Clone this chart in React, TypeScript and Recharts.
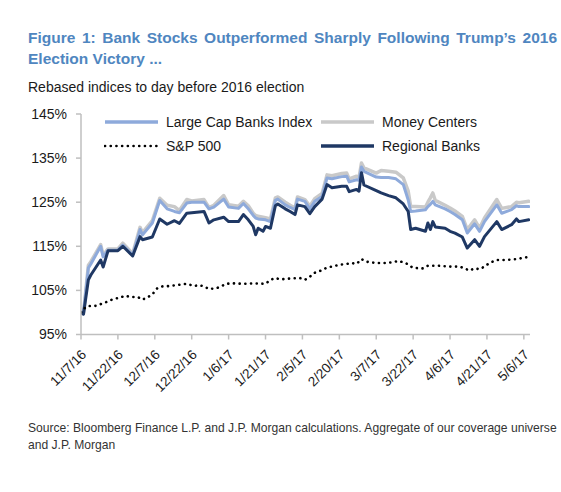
import React from "react";
import { LineChart, Line, XAxis, YAxis } from "recharts";

// day offsets from 11/7/16 (day before the election = 100%)
const bankDays = [
  0, 1, 3, 4, 8, 9, 11, 15, 17, 21, 24, 25, 29, 32, 35, 38, 40, 43, 45, 50,
  52, 54, 58, 60, 64, 66, 68, 70, 71, 72, 74, 75, 77, 79, 80, 83, 85, 87, 88, 91,
  93, 95, 98, 100, 102, 106, 108, 109, 112, 113, 114, 115, 120, 122, 125, 128, 131, 133, 134, 136,
  140, 141, 142, 143, 144, 148, 150, 152, 155, 157, 160, 162, 164, 169, 171, 175, 177, 178, 182,
];

const regionalBanks = [
  100, 99.6, 107.4, 108.5, 111.9, 110.3, 114.0, 114.0, 115.0, 112.8,
  117.2, 116.5, 117.1, 121.2, 120.0, 120.8, 120.2, 122.5, 122.6, 122.9,
  120.3, 121.0, 121.6, 120.6, 120.6, 122.2, 121.0, 119.5, 117.6, 119.1,
  118.4, 119.5, 119.1, 124.2, 124.6, 123.5, 122.9, 122.2, 124.4, 124.0,
  122.4, 124.0, 125.7, 129.0, 128.3, 128.6, 128.6, 127.4, 127.9, 127.5,
  131.7, 128.9, 127.6, 127.1, 126.5, 126.0, 124.6, 122.9, 118.8, 119.1,
  118.4, 120.3, 118.8, 120.6, 119.4, 119.1, 118.4, 118.0, 117.1, 114.6,
  116.5, 115.0, 117.2, 120.6, 118.8, 119.9, 121.2, 120.6, 121.0,
];

const largeCapBanks = [
  100, 99.7, 110.1, 111.0, 115.0, 112.6, 114.1, 114.1, 115.3, 113.0,
  118.8, 117.6, 120.3, 125.4, 123.5, 122.9, 122.6, 124.8, 125.0, 125.0,
  123.5, 123.9, 125.7, 123.9, 123.6, 124.7, 123.5, 122.0, 121.4, 121.2,
  121.1, 121.0, 120.6, 125.4, 125.7, 124.4, 123.8, 123.3, 125.7, 125.2,
  123.5, 125.2, 126.3, 130.5, 130.3, 130.8, 130.9, 129.6, 130.1, 130.0,
  133.0, 132.0, 130.7, 130.6, 130.6, 130.3, 129.0, 125.5, 122.9, 123.0,
  123.3, 124.0, 124.5, 125.2, 124.4, 123.5, 122.9, 122.2, 121.0, 118.0,
  120.1, 118.4, 120.6, 124.4, 122.5, 123.3, 124.2, 124.0, 124.0,
];

const moneyCenters = [
  100, 99.8, 110.7, 111.5, 115.4, 113.0, 114.4, 114.4, 115.7, 113.3,
  119.3, 118.1, 120.8, 125.9, 124.3, 124.0, 123.1, 125.6, 125.3, 125.6,
  123.8, 124.3, 126.5, 124.4, 124.1, 125.2, 124.2, 122.5, 122.0, 121.8,
  121.6, 121.5, 121.2, 126.0, 126.2, 125.0, 124.3, 123.7, 126.2, 125.6,
  124.1, 125.8, 127.0, 131.2, 131.0, 131.5, 131.6, 130.3, 130.9, 130.6,
  133.9, 132.8, 131.6, 132.2, 132.0, 131.8, 130.5, 127.5, 124.0, 124.0,
  123.9, 125.0, 126.0, 127.1, 125.4, 124.3, 123.7, 123.0, 121.8, 118.8,
  121.0, 119.1, 121.4, 125.6, 123.6, 124.0, 125.0, 124.9, 125.2,
];

const spxDays = [
  0, 2, 4, 6, 9, 11, 13, 16, 18, 20, 23, 25, 27, 29, 31, 33, 36, 39, 43, 46,
  48, 50, 52, 55, 57, 59, 62, 66, 70, 75, 77, 79, 81, 85, 89, 91, 93, 95, 98, 100,
  102, 105, 108, 110, 112, 114, 116, 120, 124, 127, 129, 132, 135, 139, 141, 145, 150, 154, 158, 160,
  162, 164, 166, 169, 173, 177, 181,
];

const spx500 = [
  100.0, 101.3, 101.5, 101.5, 102.1, 102.5, 103.0, 103.4, 103.8, 103.5,
  103.5, 102.9, 103.4, 104.1, 105.5, 105.9, 106.0, 106.2, 106.5, 106.0,
  106.2, 105.9, 105.3, 105.5, 105.9, 106.5, 106.6, 106.5, 106.6, 106.5,
  107.4, 107.8, 107.5, 107.7, 107.8, 107.4, 108.1, 109.0, 109.6, 110.2,
  110.4, 110.8, 111.0, 111.2, 111.0, 112.1, 111.5, 111.2, 111.2, 111.4,
  111.7, 111.2, 110.1, 110.0, 110.6, 110.6, 110.4, 110.4, 109.5, 110.0,
  109.8, 110.4, 111.2, 111.9, 111.9, 112.1, 112.5,
];

const dateTicks = [0, 15, 30, 45, 60, 75, 90, 105, 120, 135, 150, 165, 180];
const dateLabels = [
  "11/7/16", "11/22/16", "12/7/16", "12/22/16", "1/6/17", "1/21/17", "2/5/17",
  "2/20/17", "3/7/17", "3/22/17", "4/6/17", "4/21/17", "5/6/17",
];
const pctTicks = [95, 105, 115, 125, 135, 145];

const FONT = '"Liberation Sans", Arial, sans-serif';
const AXIS_GRAY = "#bfbfbf";

const toRows = (days: number[], values: number[]) =>
  days.map((day, i) => ({ day, value: values[i] }));

const series = [
  { name: "Money Centers", color: "#c9c9c9", width: 3.5, dash: undefined, data: toRows(bankDays, moneyCenters) },
  { name: "Large Cap Banks Index", color: "#8eaadb", width: 3, dash: undefined, data: toRows(bankDays, largeCapBanks) },
  { name: "Regional Banks", color: "#1f3864", width: 3, dash: undefined, data: toRows(bankDays, regionalBanks) },
  { name: "S&P 500", color: "#000000", width: 2.6, dash: "0.1 5.6", data: toRows(spxDays, spx500) },
];

const legendOrder = ["Large Cap Banks Index", "Money Centers", "S&P 500", "Regional Banks"];

function DateTick({ x, y, payload }: any) {
  const idx = dateTicks.indexOf(payload.value);
  return (
    <g transform={`translate(${x + 6},${y + 14})`}>
      <text
        textAnchor="end"
        transform="rotate(-45)"
        fontSize={13.5}
        fontFamily={FONT}
        fill="#1a1a1a"
      >
        {dateLabels[idx]}
      </text>
    </g>
  );
}

function LegendBox() {
  return (
    <div
      style={{
        position: "absolute",
        left: 104,
        top: 114,
        display: "grid",
        gridTemplateColumns: "216px 200px",
        rowGap: 8,
        fontFamily: FONT,
        fontSize: 14,
        color: "#1a1a1a",
      }}
    >
      {legendOrder.map((name) => {
        const s = series.find((x) => x.name === name)!;
        return (
          <div key={name} style={{ display: "flex", alignItems: "center", height: 16 }}>
            <svg width={60} height={8} style={{ marginRight: 2 }}>
              <line
                x1={1}
                x2={54}
                y1={4}
                y2={4}
                stroke={s.color}
                strokeWidth={s.dash ? 2.6 : 3.5}
                strokeDasharray={s.dash}
                strokeLinecap={s.dash ? "round" : "butt"}
              />
            </svg>
            <span>{name}</span>
          </div>
        );
      })}
    </div>
  );
}

export default function App() {
  return (
    <div
      style={{
        position: "absolute",
        left: 0,
        top: 0,
        width: 561,
        height: 492,
        background: "#ffffff",
        fontFamily: FONT,
        overflow: "hidden",
      }}
    >
      <div
        style={{
          position: "absolute",
          left: 28,
          top: 27,
          width: 529,
          fontSize: 15.5,
          fontWeight: "bold",
          lineHeight: "21px",
          color: "#4f86c0",
        }}
      >
        <div style={{ textAlign: "justify", textAlignLast: "justify", whiteSpace: "nowrap" }}>
          Figure 1: Bank Stocks Outperformed Sharply Following Trump’s 2016
        </div>
        <div>Election Victory ...</div>
      </div>
      <div
        style={{
          position: "absolute",
          left: 28,
          top: 79,
          fontSize: 14,
          lineHeight: "16px",
          color: "#1a1a1a",
        }}
      >
        Rebased indices to day before 2016 election
      </div>

      <div style={{ position: "absolute", left: 0, top: 0 }}>
        <LineChart
          width={561}
          height={400}
          margin={{ top: 114, right: 31, left: 0, bottom: 0 }}
        >
          <XAxis
            type="number"
            dataKey="day"
            domain={[0, 182.5]}
            ticks={dateTicks}
            interval={0}
            height={65.5}
            tick={<DateTick />}
            tickSize={5}
            axisLine={{ stroke: AXIS_GRAY, strokeWidth: 1.5 }}
            tickLine={{ stroke: AXIS_GRAY, strokeWidth: 1.5 }}
            allowDataOverflow
          />
          <YAxis
            type="number"
            domain={[95, 145]}
            ticks={pctTicks}
            width={81}
            tickSize={5}
            tickMargin={9}
            tickFormatter={(v: number) => `${v}%`}
            tick={{ fontSize: 14, fontFamily: FONT, fill: "#1a1a1a" }}
            axisLine={{ stroke: AXIS_GRAY, strokeWidth: 1.5 }}
            tickLine={{ stroke: AXIS_GRAY, strokeWidth: 1.5 }}
          />
          {series.map((s) => (
            <Line
              key={s.name}
              data={s.data}
              dataKey="value"
              name={s.name}
              type="linear"
              stroke={s.color}
              strokeWidth={s.width}
              strokeDasharray={s.dash}
              strokeLinecap="round"
              strokeLinejoin="round"
              dot={false}
              activeDot={false}
              isAnimationActive={false}
            />
          ))}
        </LineChart>
      </div>

      <LegendBox />

      <div
        style={{
          position: "absolute",
          left: 28,
          top: 420,
          fontSize: 12.1,
          lineHeight: "17px",
          color: "#333333",
          whiteSpace: "nowrap",
        }}
      >
        Source: Bloomberg Finance L.P. and J.P. Morgan calculations. Aggregate of our coverage universe
        <br />
        and J.P. Morgan
      </div>
    </div>
  );
}
